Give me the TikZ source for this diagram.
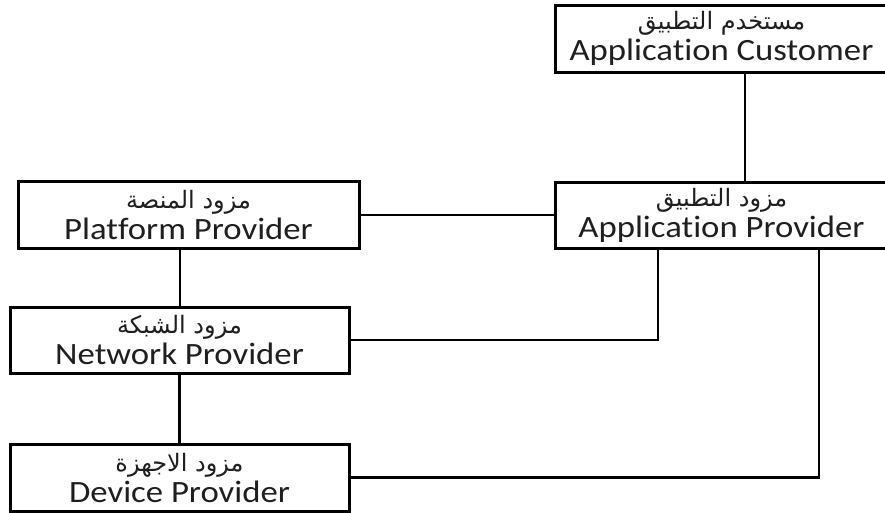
\documentclass[tikz,border=0pt]{standalone}
\usepackage{fontspec}
\setmainfont[Ligatures=NoCommon,FakeStretch=1.12]{Carlito}
\newfontfamily\arabicfont[Script=Arabic]{DejaVu Sans}
\TeXXeTstate=1
\newcommand\artxt[1]{{\arabicfont\fontsize{24}{28}\selectfont\beginR #1\endR}}
\begin{document}
\begin{tikzpicture}[x=1pt,y=-1pt,
  box/.style={draw=black, line width=3pt, rectangle, inner sep=0pt,
    align=center, text=black!88, font=\fontsize{31}{31}\selectfont},
  link/.style={draw=black, line width=2.6pt}]
\useasboundingbox (0,0) rectangle (885,512);
\node[box, minimum width=333pt, minimum height=67pt] (cust) at (721.5,38.5)
  {\artxt{مستخدم التطبيق}\\Application Customer};
\node[box, minimum width=333pt, minimum height=66pt] (app) at (721.5,215)
  {\artxt{مزود التطبيق}\\Application Provider};
\node[box, minimum width=341pt, minimum height=67pt] (plat) at (188.5,215)
  {\artxt{مزود المنصة}\\Platform Provider};
\node[box, minimum width=339pt, minimum height=66pt] (net) at (179.5,340)
  {\artxt{مزود الشبكة}\\Network Provider};
\node[box, minimum width=339pt, minimum height=67pt] (dev) at (179.5,477.5)
  {\artxt{مزود الاجهزة}\\Device Provider};
\coordinate (xc) at (745,0);
\coordinate (xp) at (180,0);
\coordinate (xa) at (658,0);
\coordinate (xd) at (819,0);
\draw[link] (xc |- cust.south) -- (xc |- app.north);
\draw[link] (plat.east) -- (app.west);
\draw[link] (xp |- plat.south) -- (xp |- net.north);
\draw[link] (net.south) -- (dev.north);
\draw[link] (xa |- app.south) |- (net.east);
\draw[link] (xd |- app.south) |- (dev.east);
\end{tikzpicture}
\end{document}
